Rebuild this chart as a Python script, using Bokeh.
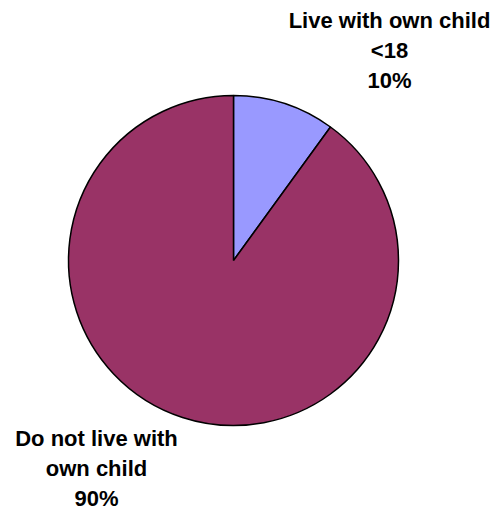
import math
from bokeh.plotting import figure
from bokeh.models import Range1d, ColumnDataSource
from bokeh.core.properties import value
from bokeh.embed import file_html
from bokeh.resources import INLINE

# Data
categories = ["Live with own child <18", "Do not live with own child"]
label_lines = [["Live with own child", "<18"], ["Do not live with", "own child"]]
values = [10, 90]
colors = ["#9999FF", "#993366"]

W, H = 498, 511
p = figure(width=W, height=H, output_backend="svg", toolbar_location=None,
           x_range=Range1d(0, W), y_range=Range1d(0, H), min_border=0)
p.axis.visible = False
p.grid.visible = False
p.outline_line_color = None
p.background_fill_color = "white"
p.border_fill_color = "white"

cx, cy, r = 233, H - 260, 165
total = sum(values)
starts, ends = [], []
a = math.pi / 2
for v in values:
    starts.append(a)
    a = a - 2 * math.pi * v / total
    ends.append(a)

src = ColumnDataSource(dict(x=[cx] * len(values), y=[cy] * len(values),
                            start=starts, end=ends, color=colors, cat=categories))
p.wedge(x="x", y="y", radius=r, start_angle="start", end_angle="end",
        direction="clock", fill_color="color", line_color="black", line_width=1.5,
        source=src)

# Labels (vertical centre of each line, in pixels from top)
label_pos = [(389, 20), (96, 438)]
step = 30
tx, ty, tt = [], [], []
for lines, v, (lx, ly) in zip(label_lines, values, label_pos):
    all_lines = lines + [f"{round(100 * v / total)}%"]
    for i, s in enumerate(all_lines):
        tx.append(lx)
        ty.append(H - (ly + i * step))
        tt.append(s)
p.text(x=tx, y=ty, text=tt, text_align="center", text_baseline="middle",
       text_font=value("Liberation Sans"), text_font_style="bold",
       text_font_size="22px", text_color="black")

open("out.html", "w").write(file_html(p, INLINE))
